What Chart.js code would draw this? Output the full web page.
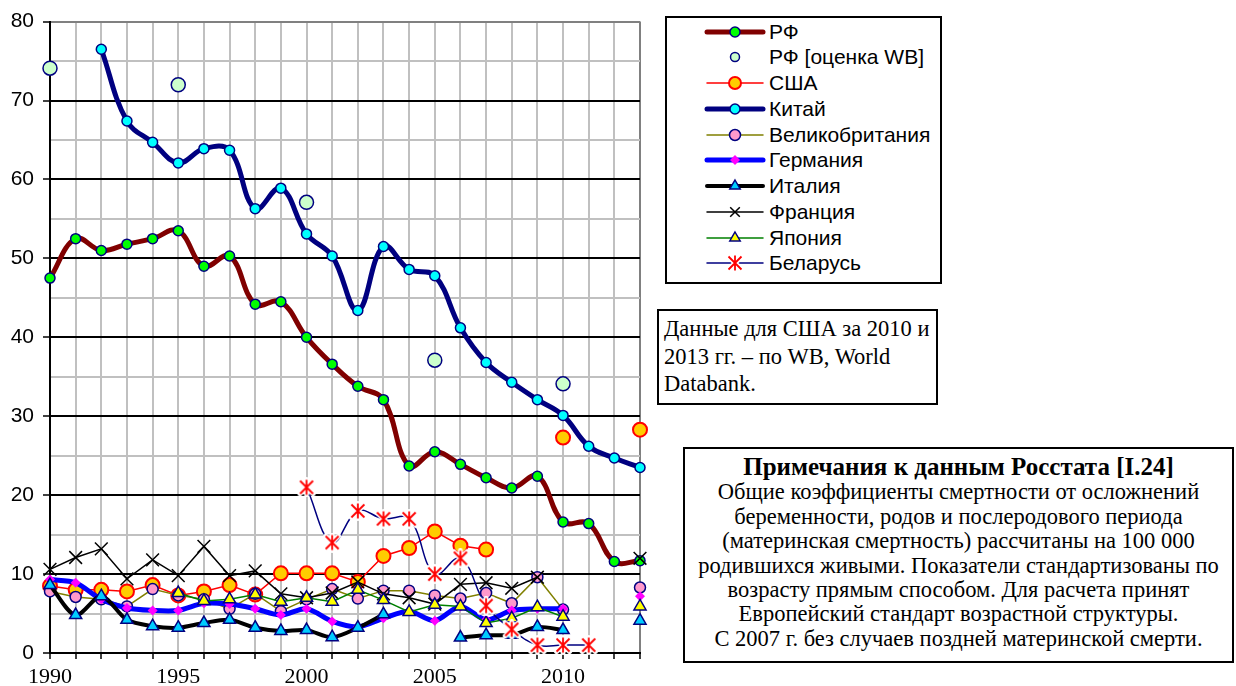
<!DOCTYPE html>
<html><head><meta charset="utf-8">
<script src="https://cdn.jsdelivr.net/npm/chart.js@4.4.1/dist/chart.umd.min.js"></script>
<style>
html,body{margin:0;padding:0;background:#fff;width:1236px;height:686px;overflow:hidden;}
#wrap{position:absolute;left:0;top:0;width:660px;height:686px;}
.box{position:absolute;border:2px solid #000;background:#fff;box-sizing:border-box;}
#legend{left:665px;top:16px;width:277px;height:268px;}
.row{position:absolute;left:0;width:272px;height:24px;}
.row canvas{position:absolute;left:37px;top:0;}
.row span{position:absolute;left:102px;top:1px;font:21px "Liberation Sans",Arial,sans-serif;white-space:nowrap;line-height:22px;color:#000;}
#note1{left:657px;top:309px;width:281px;height:96px;font:22.5px "Liberation Serif","Times New Roman",serif;line-height:27.5px;padding:4px 0 0 5px;white-space:nowrap;}
#note2{left:683px;top:447px;width:551px;height:216px;font:22.5px "Liberation Serif","Times New Roman",serif;line-height:24.4px;text-align:center;padding-top:4px;white-space:nowrap;}
#note2 b{font-size:25px;line-height:27px;}
</style>
</head><body>
<div id="wrap"><canvas id="c" width="660" height="686"></canvas></div>
<div id="legend" class="box"></div>
<div id="note1" class="box">Данные для США за 2010 и<br>2013 гг. – по WB, World<br>Databank.</div>
<div id="note2" class="box"><b>Примечания к данным Росстата [I.24]</b><br>Общие коэффициенты смертности от осложнений<br>беременности, родов и послеродового периода<br>(материнская смертность) рассчитаны на 100 000<br>родившихся живыми. Показатели стандартизованы по<br>возрасту прямым способом. Для расчета принят<br>Европейский стандарт возрастной структуры.<br>С 2007 г. без случаев поздней материнской смерти.</div>
<script>
const years = [1990,1991,1992,1993,1994,1995,1996,1997,1998,1999,2000,2001,2002,2003,2004,2005,2006,2007,2008,2009,2010,2011,2012,2013];
const rf      = [47.5,52.5,51.0,51.8,52.5,53.5,49.0,50.3,44.2,44.5,40.0,36.6,33.8,32.1,23.7,25.5,23.9,22.2,20.9,22.4,16.6,16.4,11.6,11.7];
const rfWB    = [74.1,null,null,null,null,72.0,null,null,null,null,57.1,null,null,null,null,37.1,null,null,null,null,34.1,null,null,null];
const usa     = [8.5,8.0,8.0,7.8,8.6,7.3,7.8,8.6,7.4,10.1,10.1,10.1,9.0,12.3,13.3,15.4,13.6,13.1,null,null,27.3,null,null,28.3];
const china   = [null,null,76.5,67.4,64.7,62.1,63.9,63.7,56.3,58.9,53.1,50.3,43.4,51.5,48.6,47.8,41.2,36.8,34.3,32.1,30.1,26.2,24.7,23.5];
const uk      = [7.8,7.1,6.8,5.9,8.1,7.3,6.8,5.6,7.5,5.3,6.8,8.1,6.9,7.9,7.9,7.3,6.9,7.6,6.3,9.6,5.5,null,null,8.3];
const germany = [9.3,8.9,6.8,5.7,5.4,5.4,6.3,6.2,5.6,4.8,5.6,4.0,3.3,4.4,5.3,4.1,5.9,4.2,5.4,5.6,5.6,null,null,7.2];
const italy   = [8.6,4.8,7.2,4.2,3.4,3.2,3.8,4.2,3.2,2.8,2.9,2.0,3.2,4.9,null,null,1.95,2.25,2.3,3.3,2.9,null,null,4.1];
const france  = [10.6,12.1,13.2,9.4,11.8,9.8,13.5,9.8,10.4,7.5,7.0,7.6,9.0,7.5,7.0,6.2,8.7,8.9,8.2,9.6,null,null,null,12.0];
const japan   = [null,null,null,null,null,7.6,6.6,6.8,7.4,6.5,7.0,6.5,8.0,6.7,5.2,6.1,5.9,3.8,4.4,5.8,4.6,null,null,5.9];
const belarus = [null,null,null,null,null,null,null,null,null,null,21.0,14.0,18.0,17.0,17.0,10.0,12.0,6.0,3.0,1.0,1.0,1.0,null,null];
const seriesNames = ['РФ','РФ [оценка WB]','США','Китай','Великобритания','Германия','Италия','Франция','Япония','Беларусь'];
const yTicksShown = [0,10,20,30,40,50,60,70,80];

// asterisk marker (X + vertical) with white halo
function makeAsterisk(){
  const c = document.createElement('canvas'); c.width = 20; c.height = 20;
  const g = c.getContext('2d');
  function spokes(){
    g.beginPath();
    g.moveTo(3.5,3.5); g.lineTo(16.5,16.5);
    g.moveTo(16.5,3.5); g.lineTo(3.5,16.5);
    g.moveTo(10,2.5); g.lineTo(10,17.5);
    g.stroke();
  }
  g.lineCap='round';
  g.strokeStyle='#ffffff'; g.lineWidth=5; spokes();
  g.lineCap='butt';
  g.strokeStyle='#ff0000'; g.lineWidth=1.8; spokes();
  return c;
}
const asterisk = makeAsterisk();

const styles = [
  {data:rf, borderColor:'#800000', borderWidth:5, tension:0.4, pointStyle:'circle', pointRadius:5, pointBackgroundColor:'#00ff00', pointBorderColor:'#000080', pointBorderWidth:1.5},
  {data:rfWB, showLine:false, borderColor:'#000080', borderWidth:0, pointStyle:'circle', pointRadius:7, pointBackgroundColor:'#ccffcc', pointBorderColor:'#000080', pointBorderWidth:1.5},
  {data:usa, borderColor:'#ff0000', borderWidth:1.5, tension:0, pointStyle:'circle', pointRadius:7, pointBackgroundColor:'#ffcc00', pointBorderColor:'#ff0000', pointBorderWidth:2},
  {data:china, borderColor:'#000080', borderWidth:5, tension:0.4, pointStyle:'circle', pointRadius:5, pointBackgroundColor:'#00ffff', pointBorderColor:'#000080', pointBorderWidth:1.5},
  {data:uk, borderColor:'#808000', borderWidth:1.5, tension:0, pointStyle:'circle', pointRadius:5.5, pointBackgroundColor:'#ff99cc', pointBorderColor:'#000080', pointBorderWidth:1.5},
  {data:germany, borderColor:'#0000ff', borderWidth:5, tension:0.3, pointStyle:'rectRot', pointRadius:5, pointBackgroundColor:'#ff00ff', pointBorderColor:'#ff00ff', pointBorderWidth:0},
  {data:italy, borderColor:'#000000', borderWidth:4, tension:0.3, pointStyle:'triangle', pointRadius:7, pointBackgroundColor:'#00ccff', pointBorderColor:'#000080', pointBorderWidth:1.5},
  {data:france, borderColor:'#000000', borderWidth:1.5, tension:0, pointStyle:'crossRot', pointRadius:9, pointBackgroundColor:'#000000', pointBorderColor:'#000000', pointBorderWidth:1.5},
  {data:japan, borderColor:'#008000', borderWidth:1.5, tension:0, pointStyle:'triangle', pointRadius:7, pointBackgroundColor:'#ffff00', pointBorderColor:'#000080', pointBorderWidth:1.5},
  {data:belarus, borderColor:'#000080', borderWidth:1.5, tension:0.4, pointStyle:asterisk, pointRadius:7, pointBackgroundColor:'#ff0000', pointBorderColor:'#ff0000', pointBorderWidth:1.5}
];

const datasets = styles.map((s,i)=>Object.assign({label:seriesNames[i], order:20-i, clip:false, spanGaps:false, fill:false, pointHoverRadius:s.pointRadius}, s));

new Chart(document.getElementById('c'), {
  type:'line',
  data:{labels:years, datasets:datasets},
  options:{
    responsive:false, animation:false, devicePixelRatio:1,
    layout:{padding:{top:21,right:20,left:0,bottom:0}},
    plugins:{legend:{display:false}, tooltip:{enabled:false}},
    scales:{
      x:{
        type:'category', offset:false,
        afterFit:(s)=>{s.height=33;},
        grid:{color:(ctx)=>ctx.index===years.length-1?'#808080':'#c0c0c0', lineWidth:2, tickColor:'#000', tickLength:6, tickWidth:1.5},
        border:{color:'#000', width:2},
        ticks:{autoSkip:false, maxRotation:0, minRotation:0, padding:5, color:'#000',
          font:{family:'"Liberation Serif","Times New Roman",serif', size:22},
          callback:function(v,i){const y=years[i]; return (y%5===0)?String(y):'';}}
      },
      y:{
        min:0, max:80,
        afterFit:(s)=>{s.width=50;},
        grid:{color:(ctx)=>{const v=ctx.tick.value; return v===80?'#808080':(v%10===0?'#000':'#c0c0c0');}, lineWidth:2,
          tickColor:(ctx)=>(ctx.tick && ctx.tick.value%10===0)?'#000':'rgba(0,0,0,0)', tickLength:7, tickWidth:1.5},
        border:{color:'#000', width:2},
        ticks:{stepSize:5, padding:9, color:'#000',
          font:{family:'"Liberation Sans",Arial,sans-serif', size:21},
          callback:(v)=>yTicksShown.includes(v)?String(v):''}
      }
    }
  }
});

// legend
(function(){
  const lg = document.getElementById('legend');
  styles.forEach((s,i)=>{
    const row = document.createElement('div'); row.className='row';
    row.style.top = (13.7 + i*25.75 - 12) + 'px';
    const cv = document.createElement('canvas'); cv.width=62; cv.height=24;
    const g = cv.getContext('2d');
    if (s.showLine!==false){
      g.strokeStyle=s.borderColor; g.lineWidth=s.borderWidth; g.lineCap='round';
      g.beginPath(); g.moveTo(3,12); g.lineTo(59,12); g.stroke();
    }
    const x=31, y=12, r=Math.min(s.pointRadius, i===1?4.5:6);
    g.lineWidth=s.pointBorderWidth; g.fillStyle=s.pointBackgroundColor; g.strokeStyle=s.pointBorderColor; g.lineCap='butt';
    const ps=s.pointStyle;
    if (ps==='circle'){ g.beginPath(); g.arc(x,y,r,0,Math.PI*2); g.fill(); g.stroke(); }
    else if (ps==='triangle'){ g.beginPath(); g.moveTo(x, y-r); g.lineTo(x+r*0.866, y+r*0.5); g.lineTo(x-r*0.866, y+r*0.5); g.closePath(); g.fill(); g.stroke(); }
    else if (ps==='rectRot'){ g.beginPath(); g.moveTo(x,y-r); g.lineTo(x+r,y); g.lineTo(x,y+r); g.lineTo(x-r,y); g.closePath(); g.fill(); }
    else if (ps==='crossRot'){ const d=r*0.8; g.beginPath(); g.moveTo(x-d,y-d); g.lineTo(x+d,y+d); g.moveTo(x+d,y-d); g.lineTo(x-d,y+d); g.stroke(); }
    else { g.drawImage(ps, x-10, y-10); }
    row.appendChild(cv);
    const sp=document.createElement('span'); sp.textContent=seriesNames[i]; row.appendChild(sp);
    lg.appendChild(row);
  });
})();
</script>
</body></html>
